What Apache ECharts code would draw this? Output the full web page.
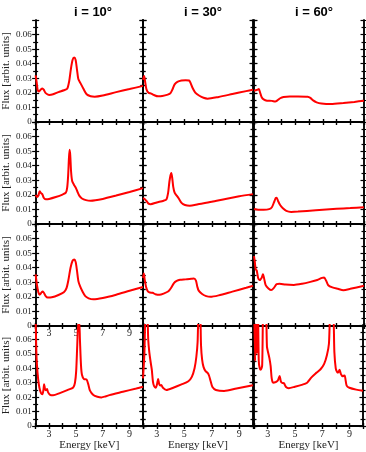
<!DOCTYPE html>
<html>
<head>
<meta charset="utf-8">
<script src="https://cdn.jsdelivr.net/npm/echarts@6/dist/echarts.min.js"></script>
<style>
  html, body { margin: 0; padding: 0; background: #fff; }
  #chart { width: 366px; height: 452px; }
</style>
</head>
<body>
<div id="chart"></div>
<script>
// column headings and y-axis title
const inclinations = ['i = 10°', 'i = 30°', 'i = 60°']
const yTitle = 'Flux [arbit. units]'
const xTitle = 'Energy [keV]'

// energy range (keV) and flux range
const energyRange = [2, 10]
const fluxRange = [0, 0.07]

// spectra, [energy keV, flux], one array per panel (row = model, col = inclination)
const r1_i10 = [[2.0,0.032],[2.08,0.027],[2.15,0.022],[2.25,0.021],[2.4,0.0225],[2.5,0.023],[2.6,0.0222],[2.75,0.0198],[3.0,0.0186],[3.3,0.019],[3.7,0.0205],[4.1,0.0218],[4.35,0.0228],[4.5,0.028],[4.62,0.036],[4.75,0.0425],[4.87,0.0442],[4.98,0.0425],[5.08,0.036],[5.18,0.0295],[5.35,0.0265],[5.55,0.023],[5.8,0.019],[6.1,0.0177],[6.4,0.0174],[7.0,0.0182],[8.0,0.0205],[9.0,0.0226],[10.0,0.0248]]
const r1_i30 = [[2.0,0.029],[2.08,0.0315],[2.15,0.028],[2.25,0.0225],[2.4,0.020],[2.6,0.0195],[2.8,0.0185],[3.1,0.0176],[3.4,0.0178],[3.8,0.0188],[4.0,0.0198],[4.15,0.0225],[4.3,0.0258],[4.5,0.0276],[4.8,0.0285],[5.1,0.0287],[5.35,0.0285],[5.45,0.027],[5.6,0.0235],[5.8,0.0202],[6.1,0.018],[6.4,0.0166],[6.7,0.016],[7.5,0.0172],[8.5,0.0192],[9.5,0.0212],[10,0.0222]]
const r1_i60 = [[2.0,0.0215],[2.2,0.022],[2.35,0.0226],[2.45,0.020],[2.55,0.0172],[2.7,0.0155],[2.95,0.0146],[3.3,0.0145],[3.55,0.014],[3.7,0.0148],[3.9,0.0163],[4.15,0.0172],[4.6,0.0175],[5.2,0.0175],[5.9,0.0173],[6.1,0.0165],[6.3,0.0148],[6.55,0.0135],[6.9,0.0127],[7.6,0.0123],[8.5,0.013],[9.3,0.0138],[10,0.0146]]

const r2_i10 = [[2.0,0.020],[2.1,0.0185],[2.2,0.0195],[2.3,0.0225],[2.4,0.0212],[2.5,0.0205],[2.6,0.018],[2.75,0.017],[3.0,0.0172],[3.5,0.0185],[4.0,0.0202],[4.25,0.0215],[4.35,0.025],[4.42,0.033],[4.48,0.045],[4.53,0.051],[4.58,0.047],[4.64,0.036],[4.72,0.0295],[4.85,0.027],[4.98,0.025],[5.1,0.0225],[5.25,0.0195],[5.45,0.0175],[5.75,0.0164],[6.1,0.016],[7.0,0.0172],[8.0,0.0195],[9.0,0.022],[10.0,0.0246]]
const r2_i30 = [[2.0,0.0178],[2.12,0.0172],[2.25,0.0158],[2.4,0.014],[2.55,0.0136],[3.0,0.0148],[3.5,0.016],[3.7,0.0168],[3.82,0.021],[3.92,0.029],[4.0,0.0335],[4.06,0.035],[4.12,0.032],[4.2,0.0255],[4.3,0.0215],[4.45,0.0195],[4.6,0.0175],[4.8,0.0145],[5.05,0.013],[5.4,0.0125],[6.0,0.0135],[7.0,0.0152],[8.0,0.0172],[9.0,0.019],[10.0,0.0205]]
const r2_i60 = [[2.0,0.0103],[2.3,0.0098],[2.7,0.0098],[3.1,0.0102],[3.3,0.0115],[3.45,0.0148],[3.58,0.0178],[3.65,0.018],[3.75,0.0158],[3.9,0.013],[4.1,0.0108],[4.35,0.009],[4.7,0.0083],[5.2,0.0085],[6.5,0.0095],[8.0,0.0104],[9.0,0.0109],[10,0.0115]]

const r3_i10 = [[2.0,0.0355],[2.1,0.028],[2.2,0.0232],[2.3,0.0215],[2.4,0.0225],[2.5,0.0237],[2.6,0.023],[2.75,0.0205],[2.9,0.0195],[3.2,0.0197],[3.7,0.0213],[4.1,0.0232],[4.3,0.026],[4.45,0.032],[4.6,0.040],[4.75,0.0448],[4.88,0.0457],[4.98,0.044],[5.08,0.038],[5.18,0.031],[5.3,0.0275],[5.5,0.0235],[5.7,0.0205],[5.95,0.019],[6.3,0.0183],[7.0,0.0192],[8.0,0.0215],[9.0,0.0242],[10,0.0268]]
const r3_i30 = [[2.0,0.033],[2.06,0.036],[2.12,0.032],[2.22,0.027],[2.35,0.0238],[2.5,0.023],[2.7,0.0228],[2.9,0.0218],[3.2,0.0214],[3.5,0.0222],[3.85,0.0238],[4.05,0.0262],[4.25,0.0295],[4.45,0.031],[4.7,0.0317],[5.1,0.032],[5.5,0.0324],[5.7,0.0326],[5.85,0.0312],[5.95,0.027],[6.05,0.0243],[6.3,0.022],[6.6,0.0205],[6.9,0.02],[7.5,0.021],[8.5,0.0236],[9.5,0.0262],[10,0.0276]]
const r3_i60 = [[2.0,0.048],[2.06,0.044],[2.12,0.039],[2.2,0.038],[2.3,0.033],[2.4,0.0315],[2.55,0.033],[2.65,0.0355],[2.75,0.032],[2.85,0.028],[3.05,0.0258],[3.25,0.0247],[3.45,0.0262],[3.65,0.0288],[3.85,0.029],[4.3,0.0284],[4.9,0.0282],[5.5,0.029],[6.1,0.0303],[6.6,0.0316],[6.95,0.033],[7.1,0.0332],[7.25,0.031],[7.4,0.028],[7.7,0.0265],[8.1,0.0255],[8.5,0.0246],[9.0,0.0255],[10,0.0276]]

const r4_i10 = [[2.0,0.075],[2.05,0.052],[2.1,0.042],[2.18,0.033],[2.28,0.0265],[2.4,0.0228],[2.5,0.022],[2.58,0.025],[2.63,0.029],[2.7,0.0255],[2.77,0.0248],[2.85,0.0256],[2.92,0.0235],[3.05,0.0218],[3.3,0.0213],[3.8,0.0228],[4.4,0.025],[4.8,0.0267],[4.93,0.030],[5.02,0.038],[5.1,0.056],[5.18,0.072],[5.25,0.072],[5.3,0.060],[5.38,0.042],[5.45,0.0355],[5.6,0.0325],[5.8,0.0322],[5.92,0.029],[6.05,0.0245],[6.3,0.0215],[6.6,0.0203],[6.9,0.0198],[7.2,0.0205],[7.5,0.0214],[8.5,0.0237],[9.5,0.026],[10,0.0272]]
const r4_i30 = [[2.0,0.033],[2.1,0.05],[2.2,0.08],[2.3,0.08],[2.38,0.06],[2.46,0.051],[2.56,0.044],[2.64,0.039],[2.72,0.031],[2.8,0.0278],[2.92,0.0265],[3.02,0.029],[3.1,0.0325],[3.18,0.029],[3.26,0.028],[3.33,0.0285],[3.45,0.0265],[3.7,0.025],[4.2,0.0265],[4.8,0.0288],[5.3,0.031],[5.55,0.034],[5.75,0.040],[5.88,0.048],[5.97,0.058],[6.05,0.08],[6.15,0.08],[6.22,0.056],[6.3,0.046],[6.4,0.041],[6.55,0.038],[6.7,0.0368],[6.8,0.035],[6.92,0.031],[7.05,0.027],[7.3,0.025],[7.9,0.0243],[8.8,0.026],[10,0.0283]]
const r4_i60 = [[2.0,0.09],[2.08,0.045],[2.13,0.09],[2.2,0.05],[2.28,0.09],[2.35,0.045],[2.42,0.04],[2.5,0.039],[2.6,0.042],[2.7,0.09],[2.85,0.09],[2.95,0.055],[3.04,0.0508],[3.13,0.047],[3.22,0.0416],[3.3,0.033],[3.4,0.030],[3.6,0.0305],[3.75,0.0315],[3.88,0.0347],[3.97,0.031],[4.08,0.0298],[4.2,0.0296],[4.35,0.027],[4.55,0.0262],[5.0,0.0272],[5.5,0.0285],[5.9,0.030],[6.2,0.0335],[6.6,0.037],[6.9,0.0395],[7.15,0.043],[7.35,0.049],[7.5,0.057],[7.62,0.08],[7.8,0.08],[7.9,0.051],[8.0,0.040],[8.1,0.0375],[8.18,0.037],[8.28,0.039],[8.38,0.036],[8.5,0.0345],[8.65,0.035],[8.72,0.032],[8.8,0.028],[9.0,0.0265],[9.5,0.0252],[10,0.0245]]

const panels = [
  [r1_i10, r1_i30, r1_i60],
  [r2_i10, r2_i30, r2_i60],
  [r3_i10, r3_i30, r3_i60],
  [r4_i10, r4_i30, r4_i60]
]

// layout
const colLeft = [33, 143, 254]
const rowTop = [20, 122, 224, 325]
const panelW = 110
const panelH = 102
const serif = 'Liberation Serif'

let grid = []
let xAxis = []
let yAxis = []
let series = []
let title = []

function oddLabel(v) {
  return (Math.round(v) % 2 === 1) ? String(Math.round(v)) : ''
}
function fluxLabel(v) {
  if (v > 0.065) return ''
  return v === 0 ? '0' : v.toFixed(2)
}

inclinations.forEach(function(txt, c) {
  title.push({
    text: txt,
    left: colLeft[c] + panelW / 2,
    top: 1,
    textAlign: 'center',
    textStyle: { fontFamily: 'Liberation Sans', fontWeight: 'bold', fontSize: 13, color: '#000' }
  })
})

panels.forEach(function(row, r) {
  row.forEach(function(data, c) {
    let g = grid.length
    grid.push({ left: colLeft[c], top: rowTop[r], width: panelW, height: panelH, containLabel: false })

    // 4 x axes: bottom in/out, top in/out
    let xDefs = [['bottom', true], ['bottom', false], ['top', true], ['top', false]]
    xDefs.forEach(function(d, k) {
      let ax = {
        gridIndex: g, type: 'value', position: d[0],
        min: energyRange[0], max: energyRange[1], interval: 1,
        splitLine: { show: false },
        axisLine: { show: true, lineStyle: { color: '#000', width: 1.5 } },
        axisTick: { show: true, inside: d[1], length: 3, lineStyle: { color: '#000', width: 1.2 } },
        axisLabel: { show: false }
      }
      if (r === 3 && k === 1) {
        ax.axisLabel = { show: true, margin: 3, formatter: oddLabel, fontFamily: serif, fontSize: 10, color: '#222' }
        ax.name = xTitle
        ax.nameLocation = 'middle'
        ax.nameGap = 14
        ax.nameTextStyle = { fontFamily: serif, fontSize: 11, color: '#222' }
      }
      if (r === 3 && c === 0 && k === 2) {
        ax.axisLabel = { show: true, inside: true, margin: 3, formatter: oddLabel, fontFamily: serif, fontSize: 10, color: '#222' }
      }
      xAxis.push(ax)
    })

    // 4 y axes: left in/out, right in/out
    let yDefs = [['left', true], ['left', false], ['right', true], ['right', false]]
    yDefs.forEach(function(d, k) {
      let ax = {
        gridIndex: g, type: 'value', position: d[0],
        min: fluxRange[0], max: fluxRange[1], interval: 0.01,
        splitLine: { show: false },
        axisLine: { show: true, lineStyle: { color: '#000', width: 1.5 } },
        axisTick: { show: true, inside: d[1], length: 3.5, lineStyle: { color: '#000', width: 1.2 } },
        minorTick: { show: true, splitNumber: 2, length: 2.5, lineStyle: { color: '#000', width: 1.2 } },
        minorSplitLine: { show: false },
        axisLabel: { show: false }
      }
      // minor ticks drawn inside only when tick inside; emulate by flipping
      if (c === 0 && k === 1) {
        ax.axisLabel = { show: true, margin: 4, formatter: fluxLabel, fontFamily: serif, fontSize: 9, color: '#222' }
        ax.name = yTitle
        ax.nameLocation = 'middle'
        ax.nameGap = 19
        ax.nameTextStyle = { fontFamily: serif, fontSize: 11, color: '#222' }
      }
      yAxis.push(ax)
    })

    series.push({
      type: 'line',
      xAxisIndex: g * 4,
      yAxisIndex: g * 4,
      data: data,
      showSymbol: false,
      smooth: 0.25,
      clip: true,
      lineStyle: { color: '#ff0000', width: 2 },
      animation: false
    })
  })
})

let myChart = echarts.init(document.getElementById('chart'))
myChart.setOption({
  animation: false,
  backgroundColor: '#fff',
  title: title,
  grid: grid,
  xAxis: xAxis,
  yAxis: yAxis,
  series: series
})
</script>
</body>
</html>
